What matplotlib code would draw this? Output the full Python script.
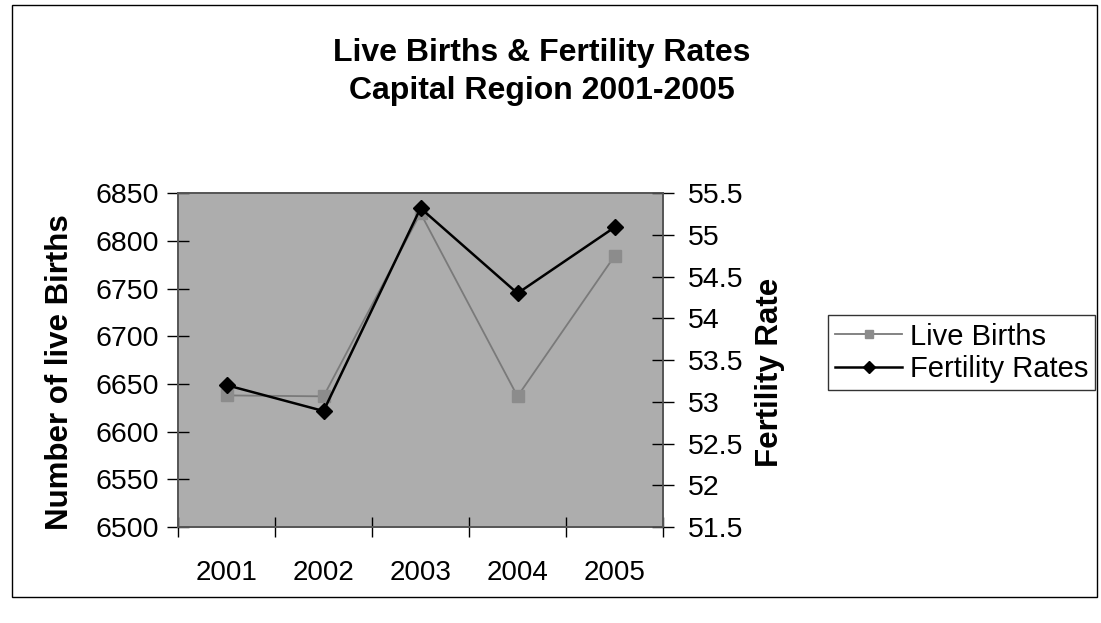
import matplotlib.pyplot as plt
import matplotlib.patches as patches
import numpy as np

plt.rcParams['font.family'] = ['Liberation Sans', 'DejaVu Sans']

years = ['2001', '2002', '2003', '2004', '2005']
live_births = [6638, 6637, 6829, 6637, 6784]
fertility = [53.2, 52.89, 55.32, 54.3, 55.09]

x = np.arange(len(years))

fig = plt.figure(figsize=(11.01, 6.23), dpi=100)
ax = fig.add_axes([0.1617, 0.154, 0.4405, 0.536])
ax.set_facecolor('#adadad')

ax.plot(x, live_births, c='#7a7a7a', linewidth=1.3, marker='s', markersize=8,
        markerfacecolor='#8c8c8c', markeredgecolor='#8c8c8c', label='Live Births')
ax.set_ylim(6500, 6850)
ax.set_yticks(np.arange(6500, 6851, 50))
ax.set_xlim(-0.5, 4.5)
ax.set_xticks(np.arange(-0.5, 4.6, 1))
ax.set_xticklabels([])
ax.set_xticks(x, minor=True)
ax.set_xticklabels(years, minor=True)
ax.tick_params(axis='x', which='minor', length=0, pad=24, labelsize=20)
ax.tick_params(axis='x', which='major', length=14, direction='inout', width=1)
ax.tick_params(axis='y', length=16, width=1, direction='inout', labelsize=20.5, pad=6)
ax.set_ylabel('Number of live Births', fontsize=22.5, fontweight='bold')
ax.yaxis.set_label_coords(-0.212, 0.464)

ax2 = ax.twinx()
ax2.plot(x, fertility, c='black', linewidth=1.8, marker='D', markersize=8,
         label='Fertility Rates')
ax2.set_ylim(51.5, 55.5)
ax2.set_yticks(np.arange(51.5, 55.51, 0.5))
ax2.set_yticklabels(['51.5', '52', '52.5', '53', '53.5', '54', '54.5', '55', '55.5'])
ax2.tick_params(axis='y', length=16, width=1, direction='inout', labelsize=20.5, pad=10)
ax2.set_ylabel('Fertility Rate', fontsize=22.5, fontweight='bold')
ax2.yaxis.set_label_coords(1.19, 0.464)

for a in (ax, ax2):
    for s in a.spines.values():
        s.set_color('#555555')
        s.set_linewidth(1.2)

fig.text(0.492, 0.884, 'Live Births & Fertility Rates\nCapital Region 2001-2005',
         ha='center', va='center', fontsize=23, fontweight='bold', linespacing=1.35)

h1, l1 = ax.get_legend_handles_labels()
h2, l2 = ax2.get_legend_handles_labels()
leg = fig.legend(h1 + h2, l1 + l2, loc='upper left', bbox_to_anchor=(0.752, 0.494),
                 fontsize=21, frameon=True, fancybox=False, edgecolor='black',
                 borderaxespad=0, handlelength=2.3, handletextpad=0.25,
                 labelspacing=0.15, borderpad=0.25, markerscale=0.8)
leg.get_frame().set_linewidth(1)

fig.patches.append(patches.Rectangle((0.011, 0.042), 0.985, 0.95, transform=fig.transFigure,
                                     fill=False, edgecolor='black', linewidth=1))

fig.savefig('out.png', dpi=100)
